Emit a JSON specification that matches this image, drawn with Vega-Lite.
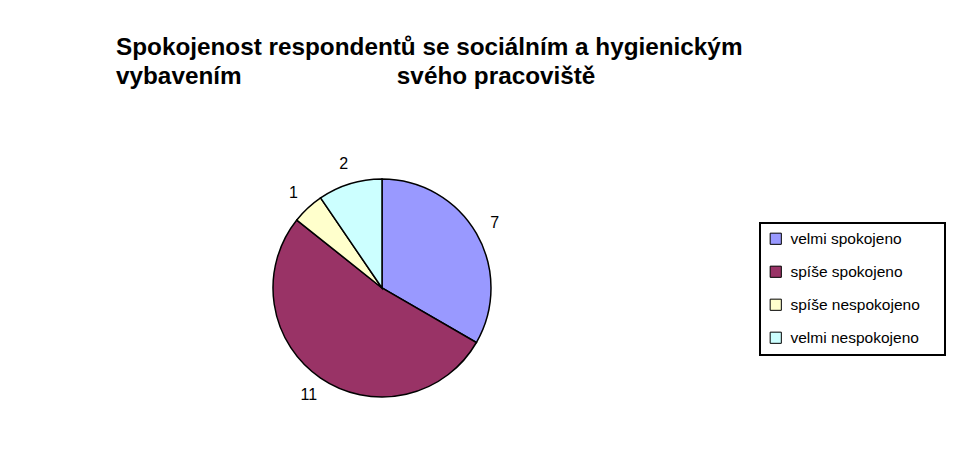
{
  "$schema": "https://vega.github.io/schema/vega-lite/v6.json",
  "width": 764,
  "height": 370,
  "autosize": "none",
  "padding": {"left": 0, "top": 103, "right": 196, "bottom": 0},
  "background": "white",
  "config": {"view": {"stroke": null}, "font": "Liberation Sans"},
  "title": {
    "text": ["Spokojenost respondentů se sociálním a hygienickým", "vybavením\u00a0\u00a0\u00a0\u00a0\u00a0\u00a0\u00a0\u00a0\u00a0\u00a0\u00a0\u00a0\u00a0\u00a0\u00a0\u00a0\u00a0\u00a0\u00a0\u00a0\u00a0\u00a0\u00a0svého pracoviště"],
    "anchor": "start",
    "frame": "group",
    "orient": "top",
    "dx": 116,
    "offset": -5,
    "fontSize": 24.3,
    "fontWeight": "bold",
    "font": "Liberation Sans",
    "lineHeight": 29,
    "color": "black",
    "baseline": "alphabetic"
  },
  "data": {
    "values": [
      {"kategorie": "velmi spokojeno", "pocet": 7, "poradi": 1},
      {"kategorie": "spíše spokojeno", "pocet": 11, "poradi": 2},
      {"kategorie": "spíše nespokojeno", "pocet": 1, "poradi": 3},
      {"kategorie": "velmi nespokojeno", "pocet": 2, "poradi": 4}
    ]
  },
  "encoding": {
    "theta": {"field": "pocet", "type": "quantitative", "stack": true},
    "order": {"field": "poradi", "type": "quantitative", "sort": "ascending"}
  },
  "layer": [
    {
      "mark": {"type": "arc", "outerRadius": 109, "stroke": "black", "strokeWidth": 1.5},
      "encoding": {
        "color": {
          "field": "kategorie",
          "type": "nominal",
          "scale": {
            "domain": ["velmi spokojeno", "spíše spokojeno", "spíše nespokojeno", "velmi nespokojeno"],
            "range": ["#9999FF", "#993366", "#FFFFCC", "#CCFFFF"]
          },
          "legend": {
            "title": "\u200b\u00a0\u00a0\u00a0\u200b",
            "titleOrient": "right",
            "titleFontSize": 15.5,
            "titlePadding": 4,
            "orient": "none",
            "legendX": 760,
            "legendY": 120,
            "symbolType": "square",
            "symbolSize": 125,
            "symbolStrokeColor": "black",
            "symbolStrokeWidth": 1,
            "labelFontSize": 15.5,
            "labelFont": "Liberation Sans",
            "labelColor": "black",
            "labelOffset": 7,
            "labelLimit": 300,
            "rowPadding": 16,
            "padding": 8,
            "strokeColor": "black",
            "fillColor": "white",
            "encode": {"legend": {"update": {"strokeWidth": {"value": 2}}}}
          }
        }
      }
    },
    {
      "mark": {"type": "text", "radius": 130, "fontSize": 16, "font": "Liberation Sans", "color": "black"},
      "encoding": {
        "text": {"field": "pocet", "type": "quantitative"},
        "detail": {"field": "kategorie", "type": "nominal"}
      }
    }
  ]
}
